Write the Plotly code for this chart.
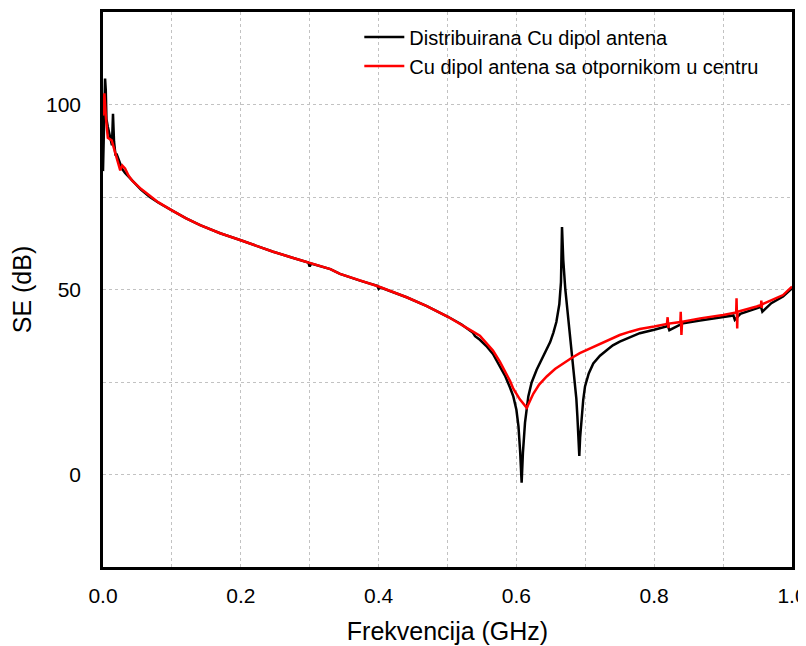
import plotly.graph_objects as go

# ---- Data (frequency in GHz, SE in dB) ----
black_f = [0.000, 0.001, 0.002, 0.003, 0.004, 0.005, 0.007, 0.009, 0.011, 0.013, 0.0145, 0.016,
           0.018, 0.020, 0.022, 0.025, 0.028, 0.032, 0.037, 0.044, 0.055, 0.068, 0.080, 0.100,
           0.120, 0.141, 0.170, 0.200, 0.225, 0.247, 0.275, 0.298, 0.300, 0.302, 0.330, 0.344,
           0.373, 0.398, 0.400, 0.402, 0.4407, 0.470, 0.500, 0.520, 0.537, 0.540, 0.547, 0.556,
           0.566, 0.576, 0.584, 0.5907, 0.5955, 0.600, 0.603, 0.6055, 0.6076, 0.6095, 0.6125,
           0.6173, 0.622, 0.6294, 0.637, 0.644, 0.649, 0.6536, 0.658, 0.6623, 0.6647, 0.6662,
           0.668, 0.671, 0.674, 0.677, 0.680, 0.6825, 0.685, 0.687, 0.6885, 0.690, 0.6913,
           0.6925, 0.6947, 0.697, 0.6996, 0.705, 0.7116, 0.7213, 0.731, 0.740, 0.750, 0.765,
           0.779, 0.800, 0.820, 0.822, 0.842, 0.8665, 0.900, 0.915, 0.917, 0.925, 0.9487,
           0.955, 0.957, 0.970, 0.987, 1.000]
black_se = [82, 90, 98, 107, 104, 96, 94, 92, 90.5, 89, 97.5, 90,
            86.5, 86.5, 85.5, 84, 82.5, 81.5, 80.5, 79.1, 77, 75, 73.5, 71.4,
            69.3, 67.4, 65.2, 63.3, 61.6, 60.2, 58.6, 57.3, 56.2, 57.0, 55.5, 54.2,
            52.4, 51.0, 50.2, 50.6, 47.9, 45.5, 42.7, 40.6, 38.3, 37.4, 36.4, 34.8,
            32.6, 29.2, 26.5, 23.5, 21.1, 17.5, 13, 6, -2.2, 6, 14,
            21.1, 24.8, 28.3, 31.2, 33.7, 35.8, 38.3, 41.2, 46, 52, 66.9,
            58, 50, 44.5, 38.3, 32.8, 28.5, 24.7, 20.5, 15.7, 10.5, 5,
            10, 15.7, 20.2, 23.8, 27.3, 30, 32.1, 33.6, 34.9, 35.9, 37.2,
            38.2, 39.1, 40.1, 39.0, 40.9, 41.6, 42.7, 43.0, 41.8, 43.4, 44.9,
            45.3, 44.0, 46.3, 48.1, 50.3]

red_f = [0.000, 0.001, 0.002, 0.004, 0.007, 0.0126, 0.016, 0.020, 0.025, 0.028, 0.032, 0.037,
         0.042, 0.055, 0.068, 0.080, 0.100, 0.120, 0.141, 0.170, 0.200, 0.225, 0.247, 0.275,
         0.300, 0.330, 0.344, 0.373, 0.400, 0.4407, 0.470, 0.500, 0.520, 0.537, 0.547, 0.556,
         0.566, 0.576, 0.584, 0.5907, 0.5955, 0.605, 0.615, 0.619, 0.6245, 0.633, 0.644, 0.656,
         0.668, 0.680, 0.692, 0.706, 0.7213, 0.735, 0.750, 0.765,
         0.779, 0.800, 0.8185, 0.8195, 0.8205, 0.8215, 0.838, 0.8385, 0.8395, 0.8405, 0.8665,
         0.900, 0.919, 0.9195, 0.9205, 0.921, 0.9487, 0.955, 0.9555, 0.956, 0.9565, 0.987, 1.000]
red_se = [97, 102.5, 103, 97, 91, 90.3, 88, 85, 82.2, 83.5, 82.7, 80.8,
          79.5, 77.2, 75.2, 73.6, 71.4, 69.3, 67.4, 65.2, 63.3, 61.6, 60.2, 58.6,
          57.1, 55.5, 54.2, 52.4, 50.8, 47.9, 45.5, 42.7, 40.6, 38.6, 37.5, 35.6,
          33.5, 30.5, 27.8, 25.3, 23.2, 20.3, 18, 19.8, 21.8, 24.3, 26.5, 28.5,
          30.1, 31.5, 32.8, 34.0, 35.2, 36.5, 37.7, 38.6,
          39.3, 40.0, 40.7, 42.5, 39.6, 40.8, 41.2, 44.0, 37.7, 41.3, 42.2,
          43.1, 43.8, 47.6, 39.5, 44.0, 45.4, 45.8, 47.0, 45.0, 46.0, 48.5, 50.8]

series_names = ["Distribuirana Cu dipol antena", "Cu dipol antena sa otpornikom u centru"]
x_tick_vals = [0.0, 0.1, 0.2, 0.3, 0.4, 0.5, 0.6, 0.7, 0.8, 0.9, 1.0]
x_tick_text = ["0.0", "", "0.2", "", "0.4", "", "0.6", "", "0.8", "", "1.0"]
y_tick_vals = [0, 25, 50, 75, 100]
y_tick_text = ["0", "", "50", "", "100"]

FONT = "Liberation Sans, Arial, sans-serif"

fig = go.Figure()
fig.add_trace(go.Scatter(x=black_f, y=black_se, mode="lines", name=series_names[0],
                         line=dict(color="#000000", width=2.5)))
fig.add_trace(go.Scatter(x=red_f, y=red_se, mode="lines", name=series_names[1],
                         line=dict(color="#ff0000", width=2.5)))

fig.update_layout(
    width=798, height=638,
    margin=dict(l=95, r=14, t=4, b=79, autoexpand=False),
    paper_bgcolor="white", plot_bgcolor="white",
    font=dict(family=FONT, color="#000000"),
    showlegend=True,
    legend=dict(x=0.372, y=0.99, xanchor="left", yanchor="top",
                bgcolor="rgba(0,0,0,0)", font=dict(size=20, family=FONT),
                tracegroupgap=0, itemwidth=40),
)
fig.update_xaxes(
    range=[0, 1], tickvals=x_tick_vals, ticktext=x_tick_text,
    showgrid=True, gridcolor="#c2c2c2", griddash="dot", gridwidth=1,
    showline=True, linecolor="#000000", linewidth=2.5, mirror=True,
    ticks="", ticklabelstandoff=8, zeroline=False, automargin=False,
    ticklabeloverflow="allow",
    tickfont=dict(size=21, family=FONT),
    title=dict(text="Frekvencija (GHz)", font=dict(size=25, family=FONT), standoff=17),
)
fig.update_yaxes(
    range=[-25, 125], tickvals=y_tick_vals, ticktext=y_tick_text,
    showgrid=True, gridcolor="#c2c2c2", griddash="dot", gridwidth=1,
    showline=True, linecolor="#000000", linewidth=2.5, mirror=True,
    ticks="", ticklabelstandoff=15, zeroline=False, automargin=False,
    tickfont=dict(size=21, family=FONT),
    title=dict(text="SE (dB)", font=dict(size=25, family=FONT), standoff=14),
)

fig.write_html("out.html")
